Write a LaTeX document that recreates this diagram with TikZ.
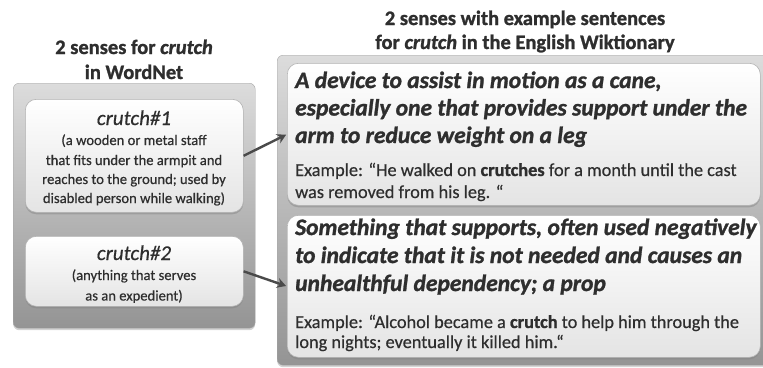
\documentclass[tikz,border=0pt]{standalone}
\usepackage{fontspec}
\setmainfont{Carlito}[UprightFeatures={FakeBold=0.5},ItalicFeatures={FakeBold=0.5},BoldFeatures={FakeBold=1.2},BoldItalicFeatures={FakeBold=1.2}]
\usetikzlibrary{shadows,arrows.meta}
\definecolor{txt}{HTML}{2E2E2E}
\definecolor{outtop}{HTML}{DCDCDC}
\definecolor{outbot}{HTML}{949494}
\definecolor{inbot}{HTML}{E4E4E4}
\definecolor{arrc}{HTML}{4A4A4A}
\tikzset{
  outerbox/.style={draw=gray!70, rounded corners=6pt, top color=outtop, bottom color=outbot,
    anchor=north west, inner sep=0pt,
    drop shadow={opacity=0.35, shadow xshift=0pt, shadow yshift=-2pt}},
  innerbox/.style={draw=gray!60, line width=0.6pt, rounded corners=11pt, top color=white, bottom color=inbot,
    anchor=north west, inner sep=0pt,
    drop shadow={opacity=0.45, shadow xshift=0pt, shadow yshift=-2pt}},
  ln/.style={anchor=base, inner sep=0pt, text=txt},
  lnl/.style={anchor=base west, inner sep=0pt, text=txt},
  ttl/.style={ln, font=\fontsize{20.5}{24}\selectfont\bfseries},
  sname/.style={ln, font=\fontsize{21}{24}\selectfont\itshape},
  sdef/.style={ln, font=\fontsize{14.6}{18}\selectfont},
  head/.style={lnl, font=\fontsize{23.5}{28}\selectfont\bfseries\itshape},
  exm/.style={lnl, font=\fontsize{18.3}{21}\selectfont},
  arr/.style={draw=arrc, line width=2.4pt, -{Stealth[length=9pt,width=10pt]}, shorten >=1pt}
}
\begin{document}
\begin{tikzpicture}[x=1pt,y=-1pt]
\useasboundingbox (0,0) rectangle (763,367);
% titles
\node[ttl] (lt1) at (134,54) {2 senses for \textit{crutch}};
\node[ttl] (lt2) at (134,79) {in WordNet};
\node[ttl] (rt1) at (525,25) {2 senses with example sentences};
\node[ttl] (rt2) at (525,49) {for \textit{crutch} in the English Wiktionary};
% outer boxes
\node[outerbox, minimum width=242pt, minimum height=245pt] (L) at (13,83) {};
\begin{scope}
\clip (0,0) rectangle (763,367);
\node[outerbox, minimum width=496pt, minimum height=310pt] (R) at (277,55) {};
\end{scope}
% inner boxes
\node[innerbox, minimum width=218pt, minimum height=113pt] (w1) at (25,99) {};
\node[innerbox, minimum width=218pt, minimum height=70pt] (w2) at (25,236) {};
\node[innerbox, minimum width=473pt, minimum height=142pt] (k1) at (287,63) {};
\node[innerbox, minimum width=473pt, minimum height=142pt] (k2) at (287,215) {};
% WordNet texts
\node[sname] (n1) at (134,125) {crutch\#1};
\node[sdef] (d11) at (134,145) {(a wooden or metal staff};
\node[sdef] (d12) at (134,165) {that fits under the armpit and};
\node[sdef] (d13) at (134,184) {reaches to the ground; used by};
\node[sdef] (d14) at (134,203) {disabled person while walking)};
\node[sname] (n2) at (134,260) {crutch\#2};
\node[sdef] (d21) at (134,280) {(anything that serves};
\node[sdef] (d22) at (134,300.5) {as an expedient)};
% Wiktionary texts
\node[head] (h11) at (295,88) {A device to assist in motion as a cane,};
\node[head] (h12) at (295,115.5) {especially one that provides support under the};
\node[head] (h13) at (295,143) {arm to reduce weight on a leg};
\node[exm] (e11) at (295,176) {Example: “He walked on \textbf{crutches} for a month until the cast};
\node[exm] (e12) at (295,198) {was removed from his leg. “};
\node[head] (h21) at (295,235) {Something that supports, often used negatively};
\node[head] (h22) at (295,263) {to indicate that it is not needed and causes an};
\node[head] (h23) at (295,291) {unhealthful dependency; a prop};
\node[exm] (e21) at (295,328) {Example: “Alcohol became a \textbf{crutch} to help him through the};
\node[exm] (e22) at (295,348) {long nights; eventually it killed him.“};
% arrows
\draw[arr] (w1.east) -- (k1.west);
\draw[arr] (w2.east) -- (k2.west);
\end{tikzpicture}
\end{document}
